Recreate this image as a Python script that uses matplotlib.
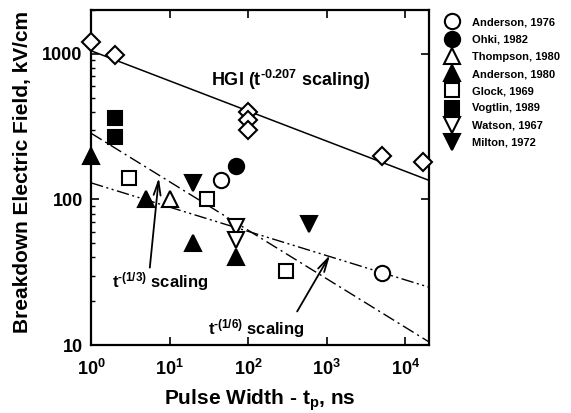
import matplotlib
matplotlib.use("Agg")
import matplotlib.pyplot as plt
import numpy as np
from matplotlib.ticker import FixedLocator, NullLocator, LogLocator

plt.rcParams['font.family'] = ['Liberation Sans', 'DejaVu Sans']
plt.rcParams['font.weight'] = 'bold'
plt.rcParams['mathtext.fontset'] = 'custom'
plt.rcParams['mathtext.rm'] = 'Liberation Sans:bold'
plt.rcParams['mathtext.it'] = 'Liberation Sans:bold'
plt.rcParams['mathtext.bf'] = 'Liberation Sans:bold'
plt.rcParams['mathtext.sf'] = 'Liberation Sans:bold'
plt.rcParams['mathtext.default'] = 'rm'

# data (pulse width in ns, breakdown field in kV/cm)
hgi_t = [1, 2, 100, 100, 100, 5000, 17000]
hgi_e = [1200, 980, 400, 350, 300, 200, 180]

anderson76_t = [45, 5000]
anderson76_e = [135, 31]
ohki_t = [70]
ohki_e = [170]
thompson_t = [10]
thompson_e = [100]
anderson80_t = [1, 5, 20, 70]
anderson80_e = [200, 100, 50, 40]
glock_t = [3, 30, 300]
glock_e = [140, 100, 32]
vogtlin_t = [2, 2]
vogtlin_e = [360, 270]
watson_t = [70, 70]
watson_e = [65, 53]
milton_t = [20, 600]
milton_e = [130, 68]

# scaling laws
hgi_coef, hgi_exp = 1050, -0.207
third_coef, sixth_coef = 285, 130

x_ticks = [1, 10, 100, 1000, 10000]
y_ticks = [10, 100, 1000]
y_tick_labels = ['10', '100', '1000']

HY = '\u2010'  # short hyphen for the exponents

fig = plt.figure(figsize=(5.71, 4.13), dpi=100)
ax = fig.add_axes([0.1594, 0.1646, 0.5919, 0.8112])

tt = np.logspace(0, np.log10(2e4), 200)
ax.plot(tt, hgi_coef * tt ** hgi_exp, color='black', lw=1.1, zorder=1)
ax.plot(tt, third_coef * tt ** (-1 / 3), color='black', lw=1.0,
        linestyle=(0, (9, 3, 1.5, 3)), zorder=1)
ax.plot(tt, sixth_coef * tt ** (-1 / 6), color='black', lw=1.0,
        linestyle=(0, (9, 2.5, 1.5, 2.5, 1.5, 2.5)), zorder=1)

mk = dict(linestyle='none', markeredgecolor='black', markeredgewidth=1.5,
          zorder=3, clip_on=False)
ax.plot(hgi_t, hgi_e, marker='D', ms=9.5, mfc='white', **mk)

series = [
    (anderson76_t, anderson76_e, 'o', 'white', 11, 'Anderson, 1976'),
    (ohki_t, ohki_e, 'o', 'black', 11, 'Ohki, 1982'),
    (thompson_t, thompson_e, '^', 'white', 11, 'Thompson, 1980'),
    (anderson80_t, anderson80_e, '^', 'black', 11, 'Anderson, 1980'),
    (glock_t, glock_e, 's', 'white', 9.5, 'Glock, 1969'),
    (vogtlin_t, vogtlin_e, 's', 'black', 9.5, 'Vogtlin, 1989'),
    (watson_t, watson_e, 'v', 'white', 11, 'Watson, 1967'),
    (milton_t, milton_e, 'v', 'black', 11, 'Milton, 1972'),
]
handles = []
for xs, ys, m, fc, s, lab in series:
    h, = ax.plot(xs, ys, marker=m, ms=s, mfc=fc, label=lab, **mk)
    handles.append(h)

ax.set_xscale('log')
ax.set_yscale('log')
ax.set_xlim(1, 2e4)
ax.set_ylim(10, 2000)

ax.xaxis.set_major_locator(FixedLocator(x_ticks))
ax.xaxis.set_minor_locator(NullLocator())
ax.yaxis.set_major_locator(FixedLocator(y_ticks))
ax.set_yticklabels(y_tick_labels)
ax.yaxis.set_minor_locator(LogLocator(base=10, subs=np.arange(2, 10)))
ax.tick_params(which='major', direction='in', length=6, width=1.2,
               labelsize=13, top=True, right=True, pad=6)
ax.tick_params(axis='x', which='major', pad=10)
ax.tick_params(which='minor', direction='in', length=3, width=1.0,
               left=True, right=False)
for sp in ax.spines.values():
    sp.set_linewidth(1.6)

ax.set_xlabel('Pulse Width - t$_\\mathregular{p}$, ns', fontsize=15,
              fontweight='bold', labelpad=6)
ax.set_ylabel('Breakdown Electric Field, kV/cm', fontsize=15,
              fontweight='bold')
ax.yaxis.set_label_coords(-0.175, 0.515)

ax.text(34, 600, 'HGI ($\\mathregular{t^{' + HY + '0.207}}$ scaling)',
        fontsize=13, fontweight='bold', ha='left', va='baseline')
ax.text(1.85, 24.8, '$\\mathregular{t^{' + HY + '(1/3)}}$ scaling',
        fontsize=12, fontweight='bold', ha='left', va='baseline')
ax.text(31, 11.9, '$\\mathregular{t^{' + HY + '(1/6)}}$ scaling',
        fontsize=12, fontweight='bold', ha='left', va='baseline')

arr = dict(arrowstyle='->,head_length=1.0,head_width=0.25', color='black',
           lw=1.3, shrinkA=0, shrinkB=0)
ax.annotate('', xy=(7.3, 141), xytext=(5.6, 34), arrowprops=arr)
ax.annotate('', xy=(1100, 41.5), xytext=(420, 17), arrowprops=arr)

fig.legend(handles=handles, loc='upper left', bbox_to_anchor=(0.7776, 0.958),
           frameon=False, prop={'weight': 'bold', 'size': 8},
           handlelength=1.5, handletextpad=1.0, labelspacing=0.65,
           borderpad=0, borderaxespad=0)

fig.savefig('out.png', dpi=100)
